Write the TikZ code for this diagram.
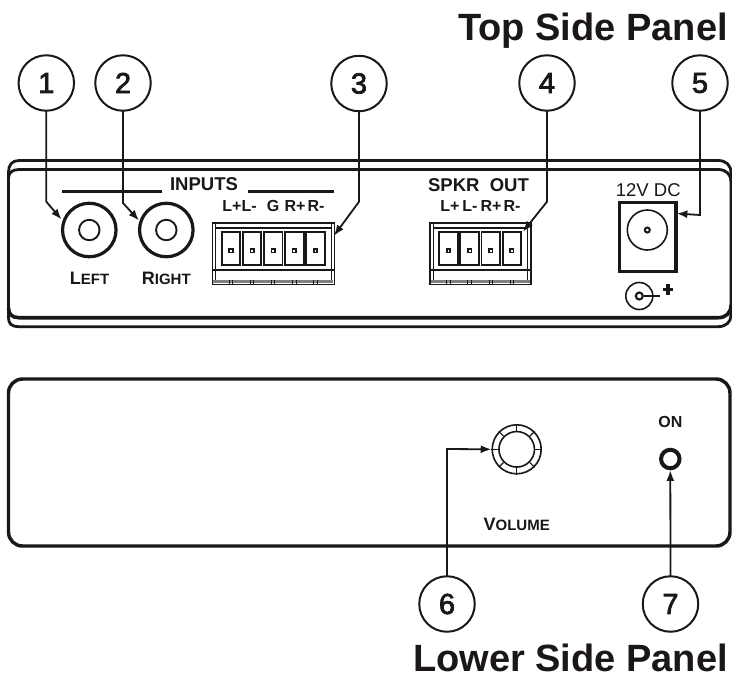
\documentclass[tikz,border=0pt]{standalone}
\usepackage{fontspec}
\setmainfont{Liberation Sans}
\newfontfamily\numfont[FakeBold=2.5]{Liberation Sans}
\usetikzlibrary{arrows.meta}
\definecolor{ink}{HTML}{1A1716}
\newcommand{\fpx}[1]{\fontsize{\fpeval{#1*0.75}pt}{\fpeval{#1*0.9}pt}\selectfont}
\newcommand{\tblock}[4]{% left, right, first slot x, count
  \draw[lw1,fill=white] (#1,223) rectangle (#2,284.3);
  \draw[line width=1.6pt,draw=ink] (#1+3,227.6) -- (#2-3,227.6);
  \draw[line width=.6pt,draw=ink] (#1+3,224) -- (#1+3,281) (#2-3,224) -- (#2-3,281);
  \draw[line width=1.5pt,draw=ink] (#1,270) -- (#2,270);
  \draw[line width=2.2pt,draw=ink!55] (#1+1,281.7) -- (#2-1,281.7);
  \foreach \k in {1,...,#4} {
    \pgfmathsetmacro{\xa}{#3+(\k-1)*21.1}
    \draw[line width=1.4pt,draw=ink] (\xa,231.7) rectangle (\xa+18.6,265);
    \draw[line width=1.3pt,draw=ink,fill=white] (\xa+7.6,249) rectangle (\xa+11,252.4);
    \draw[line width=.7pt,draw=ink] (\xa+7.5,279.5) -- (\xa+7.5,284) (\xa+11,279.5) -- (\xa+11,284);
  }
}
\tikzset{
  lw1/.style={line width=1.2pt,draw=ink},
  callout/.style={circle,draw=ink,line width=1.5pt,minimum size=55.5*0.75pt,inner sep=0pt,outer sep=0pt,text=ink,font=\fpx{29}\numfont},
  leader/.style={line width=1.35pt,draw=ink,-{Latex[length=8pt,width=6pt]}},
  shell/.style={line width=2.1pt,draw=ink},
  title/.style={anchor=base east,inner sep=0pt,text=ink,font=\fpx{38}\bfseries},
  lab/.style={anchor=base,inner sep=0pt,text=ink,font=\fpx{16}\bfseries},
  head/.style={anchor=base,inner sep=0pt,text=ink,font=\fpx{18.5}\bfseries},
  scaps/.style={anchor=base,inner sep=0pt,text=ink,font=\bfseries},
  jack/.style={circle,draw=ink,line width=2.4pt,minimum size=53.5*0.75pt,inner sep=0pt,outer sep=0pt},
  bore/.style={circle,draw=ink,line width=1.4pt,minimum size=20.5*0.75pt,inner sep=0pt,outer sep=0pt},
}
\begin{document}
\begin{tikzpicture}[x=0.75pt,y=-0.75pt]
\useasboundingbox (0,0) rectangle (732,676);
% top panel shell
\draw[shell] (8.5,318) -- (8.5,172) .. controls (8.5,165) and (12,160.5) .. (19,160.5) -- (718,160.5) .. controls (726,160.5) and (731,165) .. (731,173) -- (731,315) .. controls (731,322) and (726,326.7) .. (718,326.7) -- (19,326.7) .. controls (12,326.7) and (8.5,324) .. (8.5,318);
\draw[shell] (8.5,178) .. controls (8.5,173) and (12,169.5) .. (19,169.5) -- (718,169.5) .. controls (726,169.5) and (731,174) .. (731,182);
\draw[line width=2.7pt,draw=ink] (8.5,308) .. controls (8.5,314) and (12,317.7) .. (19,317.7) -- (718,317.7) .. controls (726,317.7) and (731,313) .. (731,305);
% lower panel shell
\draw[line width=2.6pt,draw=ink,rounded corners=10.5pt] (8.5,379) rectangle (730,546);
% titles
\node[title] (ttop) at (728,40.7) {Top Side Panel};
\node[title] (tlow) at (728,671.7) {Lower Side Panel};
% jacks
\node[jack] (jl) at (89.3,230) {};
\node[bore] (jlb) at (89.3,230) {};
\node[jack] (jr) at (166.3,230) {};
\node[bore] (jrb) at (166.3,230) {};
\node[scaps] (ll) at (89.5,284) {{\fpx{18}L}{\fpx{15}EFT}};
\node[scaps] (lr) at (166.3,284) {{\fpx{18}R}{\fpx{15}IGHT}};
% inputs header
\node[head] (hin) at (204,190.5) {INPUTS};
\draw[line width=2pt,draw=ink] (62.3,191.3) -- (161.7,191.3);
\draw[line width=2pt,draw=ink] (248.3,191.3) -- (334,191.3);
\node[lab] (a1) at (239.5,211.5) {L+L-};
\node[lab] (a2) at (273,211.5) {G};
\node[lab] (a3) at (295,211.5) {R+};
\node[lab] (a4) at (316,211.5) {R-};
\tblock{212.3}{334.3}{221.7}{5}
% speaker out
\node[head] (hsp) at (478.5,191.5) {SPKR\ \ OUT};
\node[lab] (b1) at (450,211.5) {L+};
\node[lab] (b2) at (470,211.5) {L-};
\node[lab] (b3) at (491,211.5) {R+};
\node[lab] (b4) at (512,211.5) {R-};
\tblock{430}{530.7}{439.3}{4}
% power
\node[anchor=base,inner sep=0pt,text=ink,font=\fpx{18.5}] (dc) at (648.3,196.3) {12V DC};
\draw[line width=2.3pt,draw=ink] (619.3,202.3) rectangle (676,271.7);
\node[circle,draw=ink,line width=1.2pt,minimum size=40*0.75pt,inner sep=0pt] (pj) at (647.3,230) {};
\node[circle,draw=ink,line width=1.5pt,minimum size=5*0.75pt,inner sep=0pt] (pjb) at (647.3,230) {};
\node[circle,draw=ink,line width=1.2pt,minimum size=27*0.75pt,inner sep=0pt] (ps) at (639.3,296) {};
\node[circle,draw=ink,line width=1.6pt,minimum size=7*0.75pt,inner sep=0pt] (psb) at (639.3,296) {};
\coordinate (pe) at (660,296);
\draw[line width=.9pt,draw=ink] (psb) -- (pe);
\draw[line width=2.4pt,draw=ink] (663,289.3) -- (673,289.3) (668,284) -- (668,294.5);
% volume
\node[circle,draw=ink,line width=1.2pt,minimum size=49*0.75pt,inner sep=0pt] (knob) at (516.7,449.3) {};
\node[circle,draw=ink,line width=1.2pt,minimum size=35.5*0.75pt,inner sep=0pt] (knobi) at (516.7,449.3) {};
\foreach \a in {0,45,...,315} \draw[line width=.9pt,draw=ink] (knobi.\a) -- (knob.\a);
\node[scaps] (lv) at (516.7,530) {{\fpx{18}V}{\fpx{15}OLUME}};
% on
\node[anchor=base,inner sep=0pt,text=ink,font=\fpx{16}\bfseries] (lon) at (670.3,427.5) {ON};
\node[circle,draw=ink,line width=3pt,minimum size=18.5*0.75pt,inner sep=0pt] (led) at (670.3,459) {};
% callouts
\node[callout] (n1) at (46.3,83) {1};
\node[callout] (n2) at (123,83) {2};
\node[callout] (n3) at (359,83.5) {3};
\node[callout] (n4) at (547,83) {4};
\node[callout] (n5) at (700,83) {5};
\node[callout] (n6) at (447,604) {6};
\node[callout] (n7) at (670.5,604) {7};
% connector targets
\coordinate (c1) at (46.3,201.7); \coordinate (e1) at (61.5,219.5);
\coordinate (c2) at (123,203);   \coordinate (e2) at (139,220.5);
\coordinate (c3) at (359,201.7); \coordinate (e3) at (334,235.7);
\coordinate (c4) at (547,201.7); \coordinate (e4) at (523,231.7);
\coordinate (c5) at (700,215);   \coordinate (e5) at (676.7,213.5);
\coordinate (c6) at (447,449);
\draw[leader] (n1.south) -- (c1) -- (e1);
\draw[leader] (n2.south) -- (c2) -- (e2);
\draw[leader] (n3.south) -- (c3) -- (e3);
\draw[leader] (n4.south) -- (c4) -- (e4);
\draw[leader] (n5.south) -- (c5) -- (e5);
\draw[leader] (n6.north) -- (c6) -- (knob.west);
\draw[leader] (n7.north) -- (led.south);
\end{tikzpicture}
\end{document}
